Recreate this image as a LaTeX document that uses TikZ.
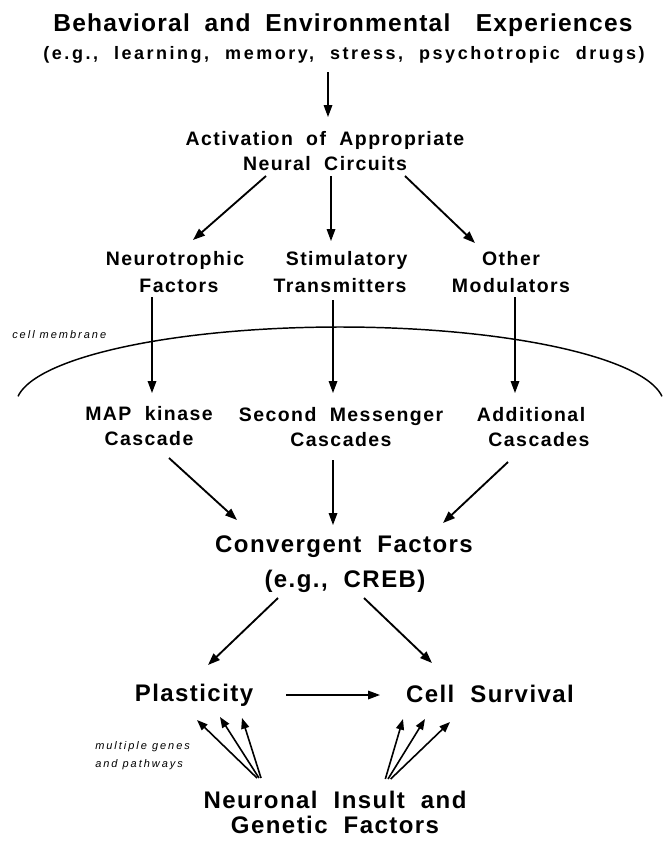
\documentclass[tikz,border=0pt]{standalone}
\usepackage{fontspec}
\setmainfont{Liberation Sans}
\usetikzlibrary{arrows.meta}
\newcommand\ttlfont{\bfseries\fontsize{18.4}{20}\selectfont\addfontfeatures{LetterSpace=5}\spaceskip 11pt\relax}
\newcommand\subfont{\bfseries\fontsize{13.5}{14}\selectfont\addfontfeatures{LetterSpace=14}\spaceskip 12pt\relax}
\newcommand\medfont{\bfseries\fontsize{14.6}{18.75}\selectfont\addfontfeatures{LetterSpace=7.5}\spaceskip 10pt\relax}
\newcommand\medfontb{\bfseries\fontsize{14.6}{20.25}\selectfont\addfontfeatures{LetterSpace=7.5}\spaceskip 10pt\relax}
\newcommand\bigfont{\bfseries\fontsize{18}{18.75}\selectfont\addfontfeatures{LetterSpace=6}\spaceskip 12pt\relax}
\newcommand\notefont{\itshape\fontsize{8.25}{13.5}\selectfont\addfontfeatures{LetterSpace=18}}
\tikzset{
  base/.style={inner sep=0pt, anchor=base, align=center},
  ttl/.style={base, font=\ttlfont},
  sub/.style={base, font=\subfont},
  med/.style={base, font=\medfont},
  medb/.style={base, font=\medfontb},
  big/.style={base, font=\bigfont},
  note/.style={inner sep=0pt, anchor=base west, align=left, font=\notefont},
  arr/.style={-{Triangle[length=9pt,width=6.5pt]}, line width=0.9pt},
  arrb/.style={-{Triangle[length=9pt,width=6.5pt]}, line width=1.4pt},
  arrs/.style={-{Triangle[length=8pt,width=6pt]}, line width=1.2pt},
}
\begin{document}
\begin{tikzpicture}[x=0.75pt,y=-0.75pt]
\useasboundingbox (0,0) rectangle (662,844);
% texts (anchor = baseline of last line)
\node[ttl] (title) at (343,31) {Behavioral and Environmental\hspace{8pt} Experiences};
\node[sub] (subt) at (344,59) {(e.g., learning, memory, stress, psychotropic drugs)};
\node[med] (act) at (325,170) {Activation of Appropriate\\Neural Circuits};
\node[medb] (nf) at (175,292) {Neurotrophic\\\hspace{6pt}Factors};
\node[medb] (st) at (340,292) {\hspace{10pt}Stimulatory\\Transmitters};
\node[medb] (om) at (511,292) {Other\\Modulators};
\node[note] (cm) at (12,338) {cell membrane};
\node[med] (map) at (149,445) {MAP kinase\\Cascade};
\node[med] (sm) at (341,446) {Second Messenger\\Cascades};
\node[med] (ac) at (531,446) {Additional\\\hspace{12pt}Cascades};
\node[big] (cf) at (344,552) {Convergent Factors};
\node[big] (creb) at (345,587) {(e.g., CREB)};
\node[big] (pl) at (194,701) {Plasticity};
\node[big] (cs) at (490,702) {Cell Survival};
\node[note] (mg) at (95,767) {multiple genes\\and pathways};
\node[big] (ni) at (335,833) {Neuronal Insult and\\Genetic Factors};
% membrane
\draw[line width=1.1pt] plot[domain=186.4:353.6, samples=80, smooth] ({340+324*cos(\x)}, {405+78*sin(\x)});
% arrow end coordinates
\coordinate (a1s) at (328,72);   \coordinate (a1e) at (328,117);
\coordinate (a2s) at (266,176);  \coordinate (a2e) at (193,240);
\coordinate (a3s) at (331,176);  \coordinate (a3e) at (331,241);
\coordinate (a4s) at (405,176);  \coordinate (a4e) at (475,243);
\coordinate (b1s) at (152,297);  \coordinate (b1e) at (152,393);
\coordinate (b2s) at (333,300);  \coordinate (b2e) at (333,393);
\coordinate (b3s) at (515,297);  \coordinate (b3e) at (515,393);
\coordinate (c1s) at (169,458);  \coordinate (c1e) at (237,520);
\coordinate (c2s) at (333,460);  \coordinate (c2e) at (333,525);
\coordinate (c3s) at (508,462);  \coordinate (c3e) at (443,523);
\coordinate (d1s) at (278,598);  \coordinate (d1e) at (208,665);
\coordinate (d2s) at (364,598);  \coordinate (d2e) at (432,663);
\coordinate (hs) at (286,695);   \coordinate (he) at (380,695);
\coordinate (l0) at (259,778);
\coordinate (l1) at (197,720); \coordinate (l2) at (220,717); \coordinate (l3) at (242,718);
\coordinate (r0) at (388,779);
\coordinate (r1) at (403,719); \coordinate (r2) at (425,719); \coordinate (r3) at (450,722);
% connectors
\draw[arr] (a1s) -- (a1e);
\draw[arrb] (a2s) -- (a2e);
\draw[arr] (a3s) -- (a3e);
\draw[arrb] (a4s) -- (a4e);
\draw[arr] (b1s) -- (b1e);
\draw[arr] (b2s) -- (b2e);
\draw[arr] (b3s) -- (b3e);
\draw[arrb] (c1s) -- (c1e);
\draw[arr] (c2s) -- (c2e);
\draw[arrb] (c3s) -- (c3e);
\draw[arrb] (d1s) -- (d1e);
\draw[arrb] (d2s) -- (d2e);
\draw[arr] (hs) -- (he);
\draw[arrs] ([xshift=-1.5pt]l0) -- (l1);
\draw[arrs] (l0) -- (l2);
\draw[arrs] ([xshift=1.5pt]l0) -- (l3);
\draw[arrs] ([xshift=-2pt]r0) -- (r1);
\draw[arrs] (r0) -- (r2);
\draw[arrs] ([xshift=2pt]r0) -- (r3);
\end{tikzpicture}
\end{document}
